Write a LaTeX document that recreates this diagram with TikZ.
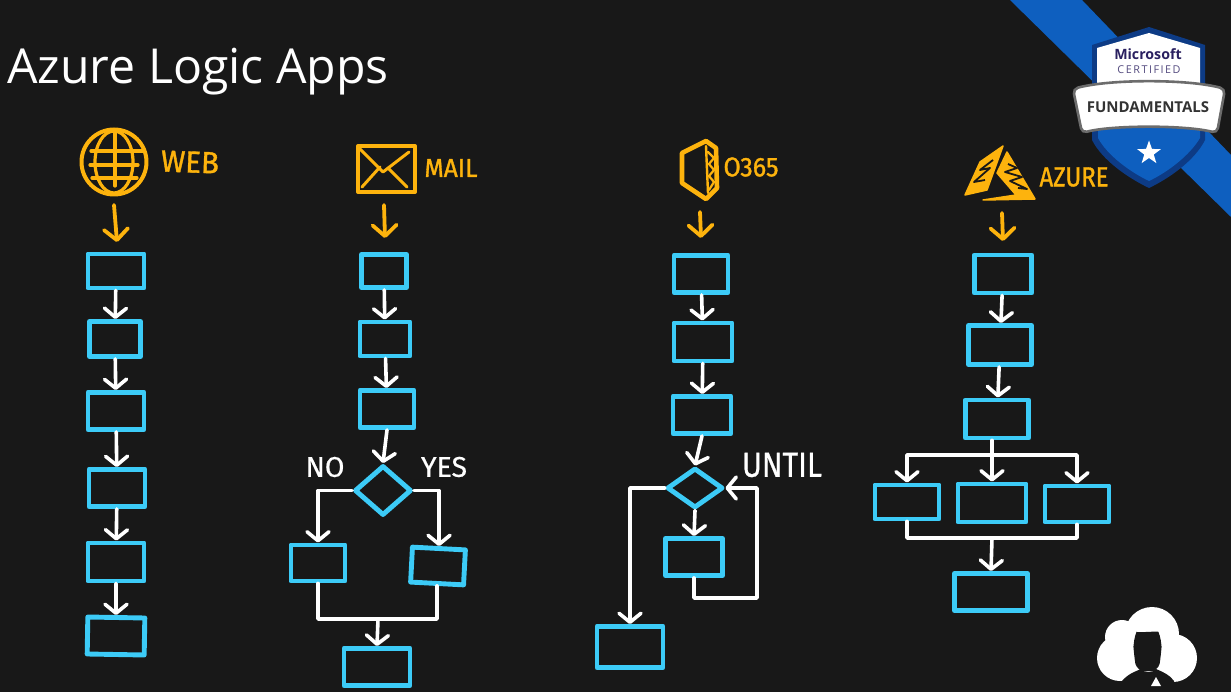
\documentclass[tikz,border=0pt]{standalone}
\usepackage{fontspec}
\usepackage{graphicx}
\setmainfont{Open Sans}
\newfontfamily\handfont[FakeBold=1.2]{Fira Sans}
\newfontfamily\handfontw[FakeBold=0.6]{Fira Sans}
\usetikzlibrary{arrows.meta,shapes.geometric,calc}
\definecolor{bgdark}{HTML}{181818}
\definecolor{boxcyan}{HTML}{3CCBF7}
\definecolor{sketchorange}{HTML}{FDB30D}
\definecolor{bandblue}{HTML}{0E5FBF}
\definecolor{shieldnavy}{HTML}{0D3B85}
\definecolor{msink}{HTML}{2A2060}
\newcommand{\fitlabel}[3]{\resizebox{#1pt}{#2pt}{\handfont #3}}
\newcommand{\fitlabelw}[3]{\resizebox{#1pt}{#2pt}{\handfontw #3}}
\tikzset{
  fbox/.style={draw=boxcyan,line width=4.9pt,rectangle,inner sep=0pt,minimum width=#1,line join=round},
  fdia/.style={draw=boxcyan,line width=4.9pt,diamond,inner sep=0pt,line join=round},
  flow/.style={draw=white,line width=3.6pt,line cap=round,line join=round,-{Straight Barb[length=9pt,width=22pt,round]}},
  wire/.style={draw=white,line width=3.6pt,line cap=round,line join=round},
  oflow/.style={draw=sketchorange,line width=3.8pt,line cap=round,-{Straight Barb[length=11pt,width=24pt,round]}},
  sketch/.style={draw=sketchorange,line width=4pt,line cap=round,line join=round},
  hatch/.style={draw=bgdark,line width=1.8pt,line join=round},
  orangetext/.style={text=sketchorange,inner sep=0pt},
  whitetext/.style={text=white,inner sep=0pt}
}
\begin{document}
\begin{tikzpicture}[x=1pt,y=-1pt]
\fill[bgdark] (0,0) rectangle (1231,692);
\useasboundingbox (0,0) rectangle (1231,692);

% title
\node[anchor=base west,text=white,inner sep=0pt,font=\fontsize{48.2}{50}\selectfont] (title) at (7,84) {Azure Logic Apps};

% badge
\fill[bandblue] (1010,0) -- (1082,0) -- (1231,155) -- (1231,217) -- cycle;
\fill[shieldnavy] (1149,27) -- (1205,45) -- (1205,140) .. controls (1195,160) and (1170,178) .. (1149,188) .. controls (1128,178) and (1102,160) .. (1092,140) -- (1092,45) -- cycle;
\fill[white] (1149,33) -- (1200,48) -- (1200,90) -- (1097,90) -- (1097,48) -- cycle;
\fill[bandblue] (1098,125) -- (1200,125) -- (1200,138) .. controls (1190,155) and (1168,172) .. (1149,181) .. controls (1130,172) and (1107,155) .. (1098,138) -- cycle;
\draw[draw=gray!85!black,fill=white,line width=2.6pt,rounded corners=5pt] (1073,89) .. controls (1110,79) and (1188,79) .. (1225,89) -- (1217,133) .. controls (1185,125) and (1112,125) .. (1082,133) -- cycle;
\node[text=msink,inner sep=0pt,font=\bfseries\fontsize{14.2}{15}\selectfont] (ms) at (1148,54) {Microsoft};
\node[text=msink!80,inner sep=0pt,font=\fontsize{10.8}{11}\selectfont] (cert) at (1149,69.5) {\addfontfeature{LetterSpace=14}CERTIFIED};
\node[text=black!80,inner sep=0pt,font=\bfseries\fontsize{15}{15}\selectfont] (fund) at (1148,107.5) {FUNDAMENTALS};
\node[star,star points=5,star point ratio=2.5,fill=white,inner sep=0pt,minimum size=25pt] (badgestar) at (1149,153) {};

% avatar
\fill[white] (1152,634) circle (27);
\fill[white] (1122,637) circle (17);
\fill[white] (1120,658) circle (23);
\fill[white] (1173,658) circle (24);
\fill[white] (1125,640) rectangle (1175,680);
\fill[bgdark] (1122,681) .. controls (1128,674) and (1134,672) .. (1141,669) .. controls (1144,673) and (1153,673) .. (1156,669) .. controls (1163,672) and (1170,675) .. (1174,681) -- (1174,692) -- (1122,692) -- cycle;
\fill[bgdark,rounded corners=9pt] (1133,640) .. controls (1136,633) and (1158,631) .. (1162,640) -- (1161,655) .. controls (1159,668) and (1152,671) .. (1148,671) .. controls (1143,671) and (1136,668) .. (1134,655) -- cycle;
\fill[white] (1156,677) -- (1161,686) -- (1151,686) -- cycle;

% WEB icon
\draw[sketch] (114,162) circle (32.5);
\draw[sketch,line width=3.2pt] (114,162) ellipse (19 and 31);
\draw[sketch,line width=3.2pt] (115,132) -- (115,186);
\foreach \yy/\xa/\xb in {151/91/143,165/90/138,178/92/137}{\draw[sketch,line width=3.2pt] (\xa,\yy) -- (\xb,\yy);}
\node[orangetext,rotate=-2] (weblab) at (190,162) {\fitlabel{58}{21}{WEB}};
\coordinate (webs) at (114,205);
\coordinate (webe) at (117,242);

% MAIL icon
\draw[sketch] (358,146) rectangle (415,192);
\draw[sketch,line width=3pt] (358,147) -- (383,172) -- (409,152);
\draw[sketch,line width=3pt] (362,187) -- (380,167);
\draw[sketch,line width=3pt] (388,168) -- (407,187);
\node[orangetext] (maillab) at (451,168) {\fitlabel{53}{18}{MAIL}};
\coordinate (mails) at (384,205);
\coordinate (maile) at (385,238);

% O365 icon
\draw[sketch,line width=4.6pt] (682,153) -- (706,141) -- (716,148) -- (717,188) -- (706,199) -- (682,183) -- cycle;
\draw[sketch,line width=2.4pt] (706,146) -- (708,193);
\draw[sketch,line width=2.2pt] (708,152) -- (714,158) -- (709,164) -- (714,170) -- (709,176) -- (714,182) -- (709,190);
\node[orangetext] (o365lab) at (751,167) {\fitlabel{55}{19}{O365}};
\coordinate (o365s) at (700,212);
\coordinate (o365e) at (701,238);

% AZURE icon
\fill[sketchorange,draw=sketchorange,line width=1.5pt,line join=round] (1003,146) -- (980,162) -- (965,195) -- (987,190) -- cycle;
\fill[sketchorange,draw=sketchorange,line width=1.5pt,line join=round] (1007,152) -- (1035,199) -- (983,200) -- (1016,195) -- (997,173) -- cycle;
\draw[hatch] (993,160) -- (980,170) -- (990,168) -- (974,182) -- (985,180);
\draw[hatch] (1008,164) -- (1017,168) -- (1005,172) -- (1022,177) -- (1010,181) -- (1027,189) -- (1018,188);
\node[orangetext] (azurelab) at (1074,177) {\fitlabel{69}{19}{AZURE}};
\coordinate (azures) at (1002,213);
\coordinate (azuree) at (1003,241);

% branch labels
\node[whitetext] (nolab) at (325,467) {\fitlabelw{39}{20}{NO}};
\node[whitetext] (yeslab) at (444,467) {\fitlabelw{46}{20}{YES}};
\node[whitetext] (untillab) at (782,465) {\fitlabelw{80}{24}{UNTIL}};

% column 1
\node[fbox=56pt,minimum height=34pt] (w1) at (116,271) {};
\node[fbox=51pt,minimum height=35pt] (w2) at (115,339) {};
\node[fbox=56pt,minimum height=37pt] (w3) at (116,411) {};
\node[fbox=56pt,minimum height=37pt] (w4) at (117,488) {};
\node[fbox=56pt,minimum height=38pt] (w5) at (116,562) {};
\node[fbox=57pt,minimum height=37pt,rotate=-1] (w6) at (116,636) {};
\draw[oflow] (webs) -- (webe);
\draw[flow] (w1) -- (w2);
\draw[flow] (w2) -- (w3);
\draw[flow] (w3) -- (w4);
\draw[flow] (w4) -- (w5);
\draw[flow] (w5) -- (w6);

% column 2
\node[fbox=45pt,minimum height=33pt] (m1) at (384,271) {};
\node[fbox=50pt,minimum height=34pt] (m2) at (385,339) {};
\node[fbox=54pt,minimum height=37pt] (m3) at (387,409) {};
\node[fdia,minimum width=57pt,minimum height=50pt] (mdia) at (383,490.5) {};
\node[fbox=54pt,minimum height=36pt] (mno) at (318,563) {};
\node[fbox=53pt,minimum height=35pt,rotate=-3] (myes) at (438,566) {};
\node[fbox=66pt,minimum height=37pt] (mbot) at (377,667) {};
\coordinate (mjoin) at (378,619);
\draw[oflow] (mails) -- (maile);
\draw[flow] (m1) -- (m2);
\draw[flow] (m2) -- (m3);
\draw[flow] (m3.south) -- (mdia.north);
\draw[flow] (mdia.west) -| (mno.north);
\draw[flow] (mdia.east) -| (myes.north);
\draw[wire] (mno.south) |- (mjoin) -| (myes.south);
\draw[flow] (mjoin) -- (mbot.north);

% column 3
\node[fbox=54pt,minimum height=37pt] (o1) at (701,274) {};
\node[fbox=58pt,minimum height=38pt] (o2) at (703,342) {};
\node[fbox=58pt,minimum height=37pt] (o3) at (702,415) {};
\node[fdia,minimum width=56pt,minimum height=40pt] (odia) at (695,488) {};
\node[fbox=57pt,minimum height=37pt] (o4) at (694,557) {};
\node[fbox=66pt,minimum height=41pt] (o5) at (630,647) {};
\coordinate (oloop) at (757,598);
\draw[oflow] (o365s) -- (o365e);
\draw[flow] (o1) -- (o2);
\draw[flow] (o2) -- (o3);
\draw[flow] (o3.south) -- (odia.north);
\draw[flow] (odia.south) -- (o4.north);
\draw[flow] (odia.west) -| (o5.north);
\draw[flow] (o4.south) |- (oloop) |- (odia.east);

% column 4
\node[fbox=57pt,minimum height=38pt] (a1) at (1003,274) {};
\node[fbox=63pt,minimum height=39pt] (a2) at (1000,345) {};
\node[fbox=63pt,minimum height=38pt] (a3) at (997,419) {};
\node[fbox=64pt,minimum height=34pt] (a4) at (907,502) {};
\node[fbox=68pt,minimum height=38pt] (a5) at (992,503) {};
\node[fbox=64pt,minimum height=36pt] (a6) at (1077,504) {};
\node[fbox=73pt,minimum height=37pt] (a7) at (991,592) {};
\coordinate (abus) at (992,455);
\coordinate (ajoin) at (992,538);
\draw[oflow] (azures) -- (azuree);
\draw[flow] (a1) -- (a2);
\draw[flow] (a2) -- (a3);
\draw[flow] (a5.north |- a3.south) -- (a5.north);
\draw[flow] (abus) -| (a4.north);
\draw[flow] (abus) -| (a6.north);
\draw[wire] (a4.south) |- (ajoin) -| (a6.south);
\draw[flow] (ajoin) -- (a7.north);
\end{tikzpicture}
\end{document}
